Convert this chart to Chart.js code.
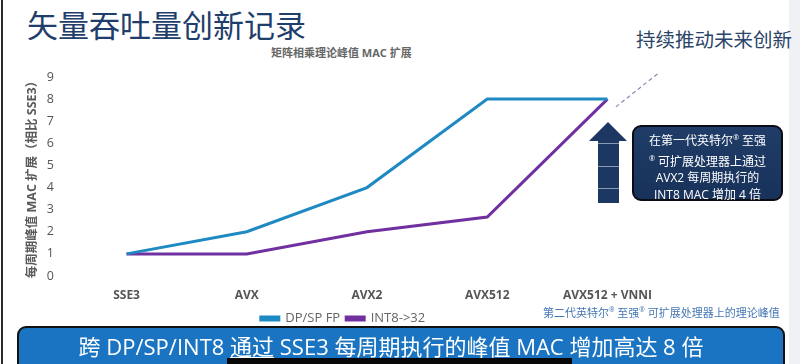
<!DOCTYPE html>
<html>
<head>
<meta charset="utf-8">
<script src="https://cdn.jsdelivr.net/npm/chart.js@4"></script>
<style>
  body { margin: 0; width: 800px; height: 364px; overflow: hidden; background: #fff; position: relative;
         font-family: "Open Sans", "Noto Sans CJK SC", sans-serif; }
  .abs { position: absolute; white-space: nowrap; }
  #wrap { position: absolute; left: 0; top: 50px; width: 686px; height: 285px; }
  #leftline { left: 1px; top: 0; width: 2px; height: 364px; background: #2a2a2a; }
  #rightband { left: 789px; top: 0; width: 11px; height: 364px; background: #eff1f5; }
  #title { left: 27px; top: 1px; font-size: 31px; color: #1f3e6b; font-family: "Noto Sans CJK SC"; }
  #future { left: 636px; top: 24px; font-size: 19.5px; color: #2b4467; font-family: "Noto Sans CJK SC"; }
  #ctitle { left: 271px; top: 44px; font-size: 11px; font-weight: bold; color: #666; }
  #note { left: 543px; top: 304px; font-size: 11px; color: #4677b5; }
  sup { font-size: 0.6em; }
  #arrowhead { left: 589px; top: 122px; width: 0; height: 0; border-left: 19.5px solid transparent;
               border-right: 19.5px solid transparent; border-bottom: 19px solid #1c3761; }
  #shaft { left: 598px; top: 141px; width: 21px; height: 62px; background: #1c3761; }
  .sep { position: absolute; left: 0; width: 21px; height: 1px; background: #8a9ab3; }
  #callout { left: 632px; top: 125px; width: 147px; height: 70px; background: linear-gradient(#1f3d68, #18325a);
             border: 2px solid #0c0c14; border-radius: 9px; color: #fff; font-size: 12px; line-height: 16.5px;
             text-align: center; padding-top: 2px; }
  #banner { left: 17px; top: 326px; width: 764px; height: 50px; background: #1a74c2; border: 2px solid #111;
            border-radius: 9px; }
  #bantext { left: 0; top: 333px; width: 782px; text-align: center; color: #fff; font-size: 22px; line-height: 26px; }
  #blackbar { left: 227px; top: 358px; width: 345px; height: 6px; background: #080808; }
</style>
</head>
<body>
<div class="abs" id="leftline"></div>
<div class="abs" id="rightband"></div>
<div class="abs" id="title">矢量吞吐量创新记录</div>
<div class="abs" id="future">持续推动未来创新</div>
<div class="abs" id="ctitle">矩阵相乘理论峰值 MAC 扩展</div>
<div id="wrap"><canvas id="chart"></canvas></div>
<div class="abs" id="arrowhead"></div>
<div class="abs" id="shaft">
  <div class="sep" style="top:2px"></div>
  <div class="sep" style="top:25px"></div>
  <div class="sep" style="top:47px"></div>
</div>
<div class="abs" id="callout">在第一代英特尔<sup>®</sup> 至强<br><sup>®</sup> 可扩展处理器上通过<br>AVX2 每周期执行的<br>INT8 MAC 增加 4 倍</div>
<div class="abs" id="note">第二代英特尔<sup>®</sup> 至强<sup>®</sup> 可扩展处理器上的理论峰值</div>
<div class="abs" id="banner"></div>
<div class="abs" id="bantext">跨 DP/SP/INT8 <u>通过</u> SSE3 每周期执行的峰值 MAC 增加高达 8 倍</div>
<div class="abs" id="blackbar"></div>

<script>
const categories = ['SSE3', 'AVX', 'AVX2', 'AVX512', 'AVX512 + VNNI'];
const fpValues = [1, 2, 4, 8, 8];
const int8Values = [1, 1, 2, 2.67, 8];
// dashed "future" trend (x in category units)
const trendX = [4.07, 4.43];
const trendY = [7.65, 9.2];
const yTicks = [0, 1, 2, 3, 4, 5, 6, 7, 8, 9];

const font = '"Open Sans", "Noto Sans CJK SC", sans-serif';

function toPoints(xs, ys) {
    return ys.map((y, i) => ({ x: xs[i], y: y }));
}
const idx = categories.map((_, i) => i);

new Chart(document.getElementById('chart'), {
    type: 'line',
    data: {
        datasets: [{
            label: 'DP/SP FP',
            data: toPoints(idx, fpValues),
            borderColor: '#1f89c4',
            backgroundColor: '#1f89c4',
            borderWidth: 3,
            pointRadius: 0,
            tension: 0
        }, {
            label: 'INT8->32',
            data: toPoints(idx, int8Values),
            borderColor: '#7030a0',
            backgroundColor: '#7030a0',
            borderWidth: 3,
            pointRadius: 0,
            tension: 0
        }, {
            label: 'trend',
            data: toPoints(trendX, trendY),
            borderColor: '#9284b0',
            borderWidth: 1.2,
            borderDash: [4, 3],
            pointRadius: [0, 2.5],
            pointBackgroundColor: '#7a2aa6',
            pointBorderWidth: 0,
            clip: false
        }]
    },
    options: {
        responsive: true,
        maintainAspectRatio: false,
        animation: false,
        layout: { padding: { top: 27, right: 0, left: 0, bottom: 0 } },
        plugins: {
            tooltip: { enabled: false },
            legend: {
                position: 'bottom',
                labels: {
                    boxWidth: 18,
                    boxHeight: 3,
                    padding: 6,
                    color: '#666',
                    font: { family: font, size: 13 },
                    filter: item => item.text !== 'trend'
                }
            }
        },
        scales: {
            x: {
                type: 'linear',
                min: -0.537,
                max: 4.62,
                grid: { display: false, drawTicks: false },
                border: { display: false },
                afterBuildTicks: axis => { axis.ticks = idx.map(v => ({ value: v })); },
                afterFit: scale => { scale.height = 30; },
                ticks: {
                    autoSkip: false,
                    maxRotation: 0,
                    padding: 12,
                    color: '#555',
                    font: { family: font, size: 12, weight: 'bold' },
                    callback: v => categories[v]
                }
            },
            y: {
                min: 0,
                max: 9,
                grid: { display: false, drawTicks: false },
                border: { display: false },
                afterBuildTicks: axis => { axis.ticks = yTicks.map(v => ({ value: v })); },
                afterFit: scale => { scale.width = 62; },
                ticks: {
                    padding: 8,
                    color: '#555',
                    font: { family: font, size: 12.5 }
                },
                title: {
                    display: true,
                    text: '每周期峰值 MAC 扩展（相比 SSE3）',
                    color: '#5a5a5a',
                    padding: { top: 25, bottom: 0 },
                    font: { family: font, size: 12.5, weight: 'bold' }
                }
            }
        }
    }
});
</script>
</body>
</html>
